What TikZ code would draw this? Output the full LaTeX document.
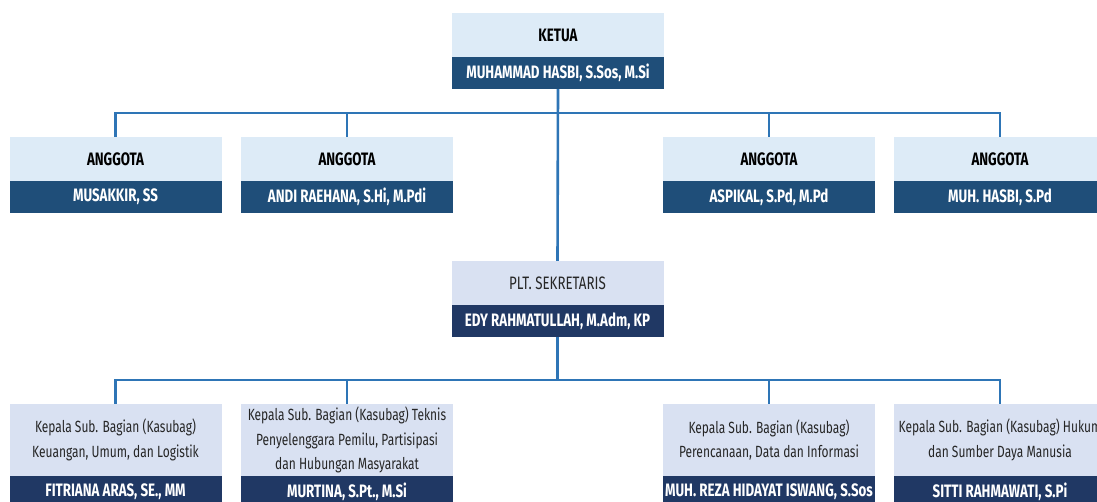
\documentclass[tikz,border=0pt]{standalone}
\usepackage{fontspec}
\setmainfont[FakeStretch=0.74]{Fira Sans}
\usepackage{tikz}

\definecolor{headfill}{HTML}{DDEBF7}
\definecolor{namefill}{HTML}{1F4E79}
\definecolor{subfill}{HTML}{D9E1F2}
\definecolor{subname}{HTML}{203864}
\definecolor{linkblue}{HTML}{2E75B6}
\definecolor{txtgray}{HTML}{262626}

\tikzset{
  headbox/.style={fill=headfill, minimum width=212pt, minimum height=44pt, inner sep=0pt,
    font=\bfseries\fontsize{18}{21}\selectfont},
  namebar/.style={fill=namefill, text=white, minimum width=212pt, minimum height=32pt, inner sep=0pt,
    font=\bfseries\fontsize{18}{21}\selectfont},
  subbox/.style={fill=subfill, text=txtgray, minimum width=212pt, inner sep=0pt, align=center,
    font=\fontsize{16.2}{24.5}\selectfont},
  subbar/.style={namebar, fill=subname},
  link/.style={draw=linkblue, line width=2.6pt}
}

\begin{document}
\begin{tikzpicture}[x=1pt, y=-1pt]
    \useasboundingbox (0,0) rectangle (1097,502);

    % Links
    \coordinate (busA) at (557.5,113);
    \coordinate (busB) at (557.5,380);

    % Ketua
    \node[headbox] (ketua) at (558,35.5) {KETUA};
    \node[namebar] (ketuaN) at (558,73) {MUHAMMAD HASBI, S.Sos, M.Si};

    % Anggota
    \node[headbox] (ang1) at (115.5,159) {ANGGOTA};
    \node[namebar] (ang1N) at (115.5,197) {MUSAKKIR, SS};
    \node[headbox] (ang2) at (347,159) {ANGGOTA};
    \node[namebar] (ang2N) at (347,197) {ANDI RAEHANA, S.Hi, M.Pdi};
    \node[headbox] (ang3) at (769,159) {ANGGOTA};
    \node[namebar] (ang3N) at (769,197) {ASPIKAL, S.Pd, M.Pd};
    \node[headbox] (ang4) at (1000,159) {ANGGOTA};
    \node[namebar] (ang4N) at (1000,197) {MUH. HASBI, S.Pd};

    % Sekretaris
    \node[headbox, fill=subfill, text=txtgray, font=\fontsize{18}{21}\selectfont] (sekr) at (557.5,283) {PLT. SEKRETARIS};
    \node[subbar] (sekrN) at (557.5,321) {EDY RAHMATULLAH, M.Adm, KP};

    % Kasubag
    \node[subbox, minimum height=72pt] (sub1) at (115.5,440) {Kepala Sub. Bagian (Kasubag)\\Keuangan, Umum, dan Logistik};
    \node[subbar] (sub1N) at (115.5,492) {FITRIANA ARAS, SE., MM};
    \node[subbox, minimum height=72pt] (sub2) at (347,440) {Kepala Sub. Bagian (Kasubag) Teknis\\Penyelenggara Pemilu, Partisipasi\\dan Hubungan Masyarakat};
    \node[subbar] (sub2N) at (347,492) {MURTINA, S.Pt., M.Si};
    \node[subbox, minimum height=72pt] (sub3) at (769,440) {Kepala Sub. Bagian (Kasubag)\\Perencanaan, Data dan Informasi};
    \node[subbar] (sub3N) at (769,492) {MUH. REZA HIDAYAT ISWANG, S.Sos};
    \node[subbox, minimum height=72pt] (sub4) at (1000,440) {Kepala Sub. Bagian (Kasubag) Hukum\\dan Sumber Daya Manusia};
    \node[subbar] (sub4N) at (1000,492) {SITTI RAHMAWATI, S.Pi};

    % Connectors
    \draw[link] (ketuaN.south) -- (sekr.north);
    \draw[link] (busA) -| (ang1.north);
    \draw[link] (busA) -| (ang2.north);
    \draw[link] (busA) -| (ang3.north);
    \draw[link] (busA) -| (ang4.north);
    \draw[link] (sekrN.south) -- (busB);
    \draw[link] (busB) -| (sub1.north);
    \draw[link] (busB) -| (sub2.north);
    \draw[link] (busB) -| (sub3.north);
    \draw[link] (busB) -| (sub4.north);
\end{tikzpicture}
\end{document}
